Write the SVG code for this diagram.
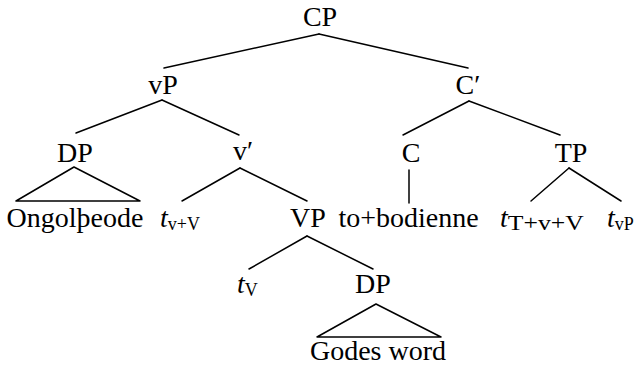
<svg xmlns="http://www.w3.org/2000/svg" width="635" height="368" viewBox="0 0 635 368">
  <style>
    .lbl { font-family: "Liberation Serif", "Times New Roman", serif; font-size: 28px; fill: #000; }
    .mid { text-anchor: middle; }
    .it { font-style: italic; }
    .sub { font-size: 18px; font-style: normal; }
    .edge { stroke: #000; stroke-width: 1.5; fill: none; stroke-linecap: round; stroke-linejoin: round; }
  </style>
  <rect width="635" height="368" fill="#fff"/>

  <!-- branches of the tree -->
  <g id="connectors">
    <line class="edge" x1="319" y1="34" x2="164" y2="68"/>
    <line class="edge" x1="319" y1="34" x2="468" y2="68"/>
    <line class="edge" x1="162" y1="100" x2="76" y2="133"/>
    <line class="edge" x1="162" y1="100" x2="239" y2="135"/>
    <line class="edge" x1="469" y1="101" x2="403" y2="135"/>
    <line class="edge" x1="469" y1="101" x2="560" y2="135"/>
    <polygon class="edge" points="74,167 16,201 140,201"/>
    <line class="edge" x1="240" y1="168" x2="182" y2="201"/>
    <line class="edge" x1="240" y1="168" x2="307" y2="201"/>
    <line class="edge" x1="409" y1="170" x2="409" y2="203"/>
    <line class="edge" x1="569" y1="168" x2="531" y2="201"/>
    <line class="edge" x1="569" y1="168" x2="621" y2="201"/>
    <line class="edge" x1="307" y1="236" x2="249" y2="269"/>
    <line class="edge" x1="307" y1="236" x2="373" y2="269"/>
    <polygon class="edge" points="376,304 317,337 441,337"/>
  </g>

  <g id="CP"><text class="lbl mid" x="320" y="26">CP</text></g>
  <g id="vP"><text class="lbl mid" x="163" y="94">vP</text></g>
  <g id="Cbar"><text class="lbl mid" x="468" y="94">C′</text></g>
  <g id="DP1"><text class="lbl mid" x="75" y="162">DP</text></g>
  <g id="vbar"><text class="lbl mid" x="243" y="160">v′</text></g>
  <g id="C"><text class="lbl mid" x="411" y="162">C</text></g>
  <g id="TP"><text class="lbl mid" x="571" y="162">TP</text></g>
  <g id="Ongoltheode"><text class="lbl mid" x="75" y="227">Ongolþeode</text></g>
  <g id="t-vV"><text class="lbl it" x="160" y="227">t<tspan class="sub" dy="3">v+V</tspan></text></g>
  <g id="VP"><text class="lbl mid" x="308" y="227">VP</text></g>
  <g id="tobodienne"><text class="lbl mid" x="408.5" y="227">to+bodienne</text></g>
  <g id="t-TvV"><text class="lbl it" x="500" y="227">t<tspan class="sub" style="font-size:20px" dy="3" textLength="76" lengthAdjust="spacingAndGlyphs">T+v+V</tspan></text></g>
  <g id="t-vP"><text class="lbl it" x="607" y="227">t<tspan class="sub" dy="3">vP</tspan></text></g>
  <g id="t-V"><text class="lbl it" x="237" y="293">t<tspan class="sub" dy="3">V</tspan></text></g>
  <g id="DP2"><text class="lbl mid" x="373" y="293">DP</text></g>
  <g id="Godes-word"><text class="lbl mid" x="378" y="360">Godes word</text></g>
</svg>
